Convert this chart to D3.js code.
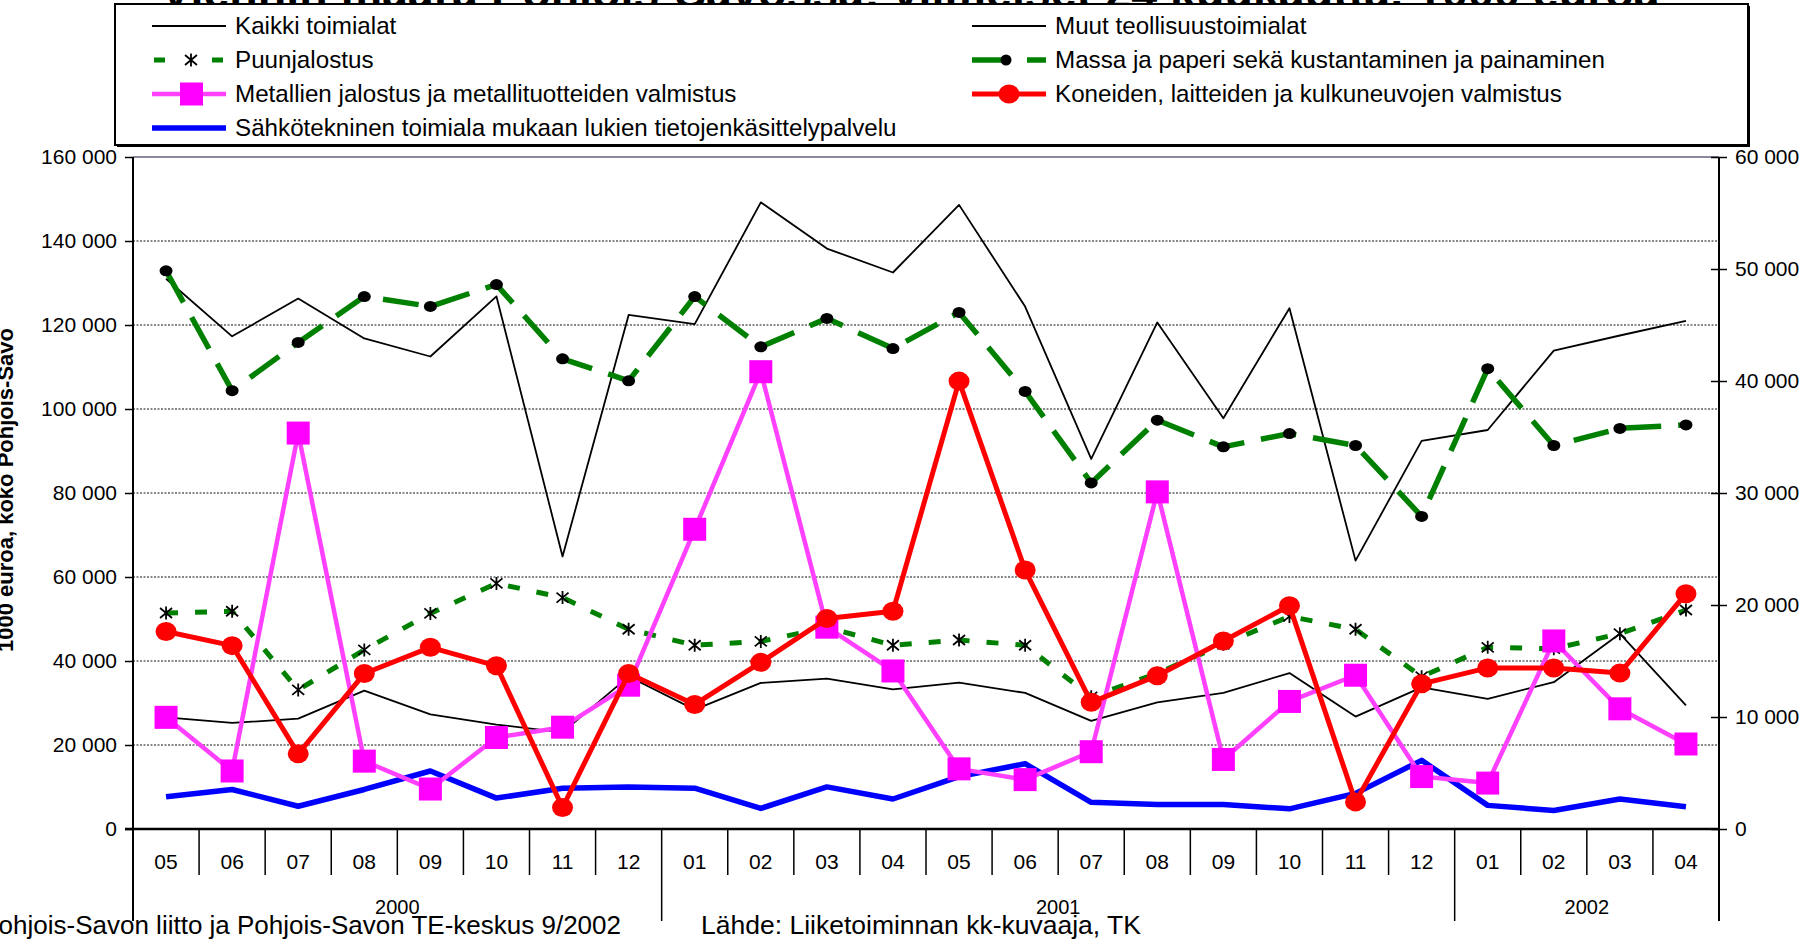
<!DOCTYPE html>
<html>
<head>
<meta charset="utf-8">
<script src="https://cdnjs.cloudflare.com/ajax/libs/d3/7.8.5/d3.min.js"></script>
<style>
body { margin: 0; background: #fff; overflow: hidden; }
svg { display: block; font-family: "Liberation Sans", Arial, sans-serif; }
</style>
</head>
<body>
<script>
// categories
var months = ["05", "06", "07", "08", "09", "10", "11", "12", "01", "02", "03", "04",
	"05", "06", "07", "08", "09", "10", "11", "12", "01", "02", "03", "04"];
var years = ["2000", "2001", "2002"];
var yearFirst = [0, 8, 20];
var yearCount = [8, 12, 4];

// left axis (1000 euroa)
var kaikki = [131000, 117300, 126300, 116800, 112500, 126800, 64900, 122400, 120200, 149200, 138200, 132500,
	148600, 124400, 88100, 120600, 97800, 124000, 63900, 92400, 95000, 113900, 117500, 121000];

// right axis (1000 euroa)
var muut = [9970, 9470, 9850, 12350, 10240, 9320, 8630, 13610, 10660, 13040, 13420, 12460,
	13070, 12150, 9660, 11310, 12150, 13920, 10040, 12650, 11620, 13110, 17440, 11040];
var puun = [19280, 19440, 12420, 15990, 19250, 21930, 20660, 17830, 16410, 16750, 18000, 16410,
	16870, 16410, 11800, 13900, 16500, 18980, 17830, 13600, 16220, 16100, 17440, 19550];
var massa = [49840, 39140, 43440, 47540, 46660, 48610, 41980, 40020, 47540, 43050, 45590, 42900,
	46120, 39070, 30900, 36500, 34120, 35310, 34240, 27910, 41100, 34240, 35770, 36080];
var metalli = [9970, 5180, 35350, 6060, 3570, 8170, 9090, 12840, 26760, 40830, 18020, 14110,
	5370, 4410, 6900, 30100, 6210, 11390, 13730, 4680, 4100, 16790, 10730, 7590];
var koneet = [17640, 16370, 6710, 13880, 16220, 14570, 1920, 13880, 11120, 14880, 18790, 19440,
	39990, 23120, 11310, 13690, 16790, 19940, 2420, 12960, 14380, 14380, 13920, 21010];
var sahko = [2880, 3530, 2030, 3530, 5180, 2760, 3640, 3760, 3640, 1840, 3760, 2680,
	4680, 5830, 2380, 2190, 2190, 1800, 3180, 6130, 2110, 1650, 2680, 1990];

var leftTicks = [0, 20000, 40000, 60000, 80000, 100000, 120000, 140000, 160000];
var rightTicks = [0, 10000, 20000, 30000, 40000, 50000, 60000];

var W = 1809, H = 941;
var L = 133, R = 1719, T = 157, B = 829;

var svg = d3.select("body").append("svg")
	.attr("width", W)
	.attr("height", H);

var x = d3.scaleBand().domain(d3.range(months.length)).range([L, R]);
var cx = function (i) { return x(i) + x.bandwidth() / 2; };
var yL = d3.scaleLinear().domain([0, 160000]).range([B, T]);
var yR = d3.scaleLinear().domain([0, 60000]).range([B, T]);
var fmt = function (d) { return d3.format(",")(d).replace(/,/g, " "); };

// title (mostly hidden behind the legend box)
var title = svg.append("text")
	.attr("x", 910)
	.attr("y", 8)
	.attr("text-anchor", "middle")
	.style("font-weight", "bold")
	.style("font-size", "40px")
	.text("Viennin määrä Pohjois-Savossa: viimeiset 24 kuukautta. 1000 euroa");
var tw = title.node().getComputedTextLength();
title.style("font-size", (40 * 1500 / tw) + "px");

// gridlines
svg.append("g").selectAll("line")
	.data(leftTicks.filter(function (d) { return d > 0 && d < 160000; }))
	.enter().append("line")
	.attr("x1", L).attr("x2", R)
	.attr("y1", function (d) { return yL(d); })
	.attr("y2", function (d) { return yL(d); })
	.attr("stroke", "#111")
	.attr("stroke-width", 1)
	.attr("stroke-dasharray", "2,1.5");

svg.append("line")
	.attr("x1", L).attr("x2", R)
	.attr("y1", T).attr("y2", T)
	.attr("stroke", "#8a8a9c")
	.attr("stroke-width", 2);

// left axis
var ga = svg.append("g")
	.attr("transform", "translate(" + L + ",0)")
	.call(d3.axisLeft(yL).tickValues(leftTicks).tickSize(8).tickPadding(8).tickFormat(fmt));
ga.select(".domain").remove();
ga.selectAll("line").attr("stroke", "#000").attr("stroke-width", 1.5);
ga.selectAll("text").style("font-size", "21px").attr("fill", "#000").attr("font-family", null);

// right axis
var gr = svg.append("g")
	.attr("transform", "translate(" + R + ",0)")
	.call(d3.axisRight(yR).tickValues(rightTicks).tickSize(8).tickPadding(8).tickFormat(fmt));
gr.select(".domain").remove();
gr.selectAll("line").attr("x1", -8).attr("stroke", "#000").attr("stroke-width", 1.5);
gr.selectAll("text").style("font-size", "21px").attr("fill", "#000").attr("font-family", null);

// bottom axis: month labels
var gb = svg.append("g")
	.attr("transform", "translate(0," + B + ")")
	.call(d3.axisBottom(x).tickSize(0).tickPadding(25).tickFormat(function (i) { return months[i]; }));
gb.select(".domain").remove();
gb.selectAll("text").style("font-size", "21px").attr("fill", "#000").attr("font-family", null);

// category boundaries and year separators
svg.append("g").selectAll("line")
	.data(d3.range(1, months.length))
	.enter().append("line")
	.attr("x1", function (i) { return x(i); })
	.attr("x2", function (i) { return x(i); })
	.attr("y1", B)
	.attr("y2", function (i) { return yearFirst.indexOf(i) >= 0 ? 921 : 875; })
	.attr("stroke", "#000")
	.attr("stroke-width", 1.5);

svg.append("g").selectAll("text")
	.data(years)
	.enter().append("text")
	.attr("x", function (d, k) { return (x(yearFirst[k]) + x(yearFirst[k] + yearCount[k] - 1) + x.bandwidth()) / 2; })
	.attr("y", 914)
	.attr("text-anchor", "middle")
	.style("font-size", "20px")
	.text(function (d) { return d; });

// axis lines
svg.append("line").attr("x1", L).attr("x2", L).attr("y1", T).attr("y2", 921)
	.attr("stroke", "#000").attr("stroke-width", 2);
svg.append("line").attr("x1", R).attr("x2", R).attr("y1", T).attr("y2", 921)
	.attr("stroke", "#000").attr("stroke-width", 2);
svg.append("line").attr("x1", L - 8).attr("x2", R).attr("y1", B).attr("y2", B)
	.attr("stroke", "#000").attr("stroke-width", 2.5);

// series
function drawLine(data, y, color, width, dash) {
	var line = d3.line()
		.x(function (d, i) { return cx(i); })
		.y(function (d) { return y(d); });
	svg.append("path")
		.datum(data)
		.attr("d", line)
		.attr("fill", "none")
		.attr("stroke", color)
		.attr("stroke-width", width)
		.attr("stroke-linejoin", "round")
		.attr("stroke-dasharray", dash || null);
}

var asterisk = "M-6,-5L6,5M-6,5L6,-5M0,-6.5L0,6.5";

drawLine(kaikki, yL, "#000", 1.8);
drawLine(muut, yR, "#000", 1.8);
drawLine(sahko, yR, "#0000ff", 5.5);

drawLine(puun, yR, "#008000", 5, "12,17");
svg.append("g").selectAll("path")
	.data(puun)
	.enter().append("path")
	.attr("transform", function (d, i) { return "translate(" + cx(i) + "," + yR(d) + ")"; })
	.attr("d", asterisk)
	.attr("stroke", "#000")
	.attr("stroke-width", 1.8)
	.attr("fill", "none");

drawLine(massa, yR, "#008000", 5.5, "36,17");
svg.append("g").selectAll("ellipse")
	.data(massa)
	.enter().append("ellipse")
	.attr("cx", function (d, i) { return cx(i); })
	.attr("cy", function (d) { return yR(d); })
	.attr("rx", 6.5)
	.attr("ry", 5.5)
	.attr("fill", "#000");

drawLine(metalli, yR, "#ff40ff", 4.5);
svg.append("g").selectAll("rect")
	.data(metalli)
	.enter().append("rect")
	.attr("x", function (d, i) { return cx(i) - 11.5; })
	.attr("y", function (d) { return yR(d) - 11.5; })
	.attr("width", 23)
	.attr("height", 23)
	.attr("fill", "#ff00ff");

drawLine(koneet, yR, "#ff0000", 5);
svg.append("g").selectAll("ellipse")
	.data(koneet)
	.enter().append("ellipse")
	.attr("cx", function (d, i) { return cx(i); })
	.attr("cy", function (d) { return yR(d); })
	.attr("rx", 10.5)
	.attr("ry", 9.5)
	.attr("fill", "#ff0000");

// y axis title
svg.append("text")
	.attr("transform", "translate(13,490) rotate(-90)")
	.attr("text-anchor", "middle")
	.style("font-weight", "bold")
	.style("font-size", "22px")
	.text("1000 euroa, koko Pohjois-Savo");

// footer
svg.append("text")
	.attr("x", 621)
	.attr("y", 934)
	.attr("text-anchor", "end")
	.style("font-size", "26px")
	.text("Pohjois-Savon liitto ja Pohjois-Savon TE-keskus 9/2002");
svg.append("text")
	.attr("x", 701)
	.attr("y", 934)
	.style("font-size", "26.5px")
	.text("Lähde: Liiketoiminnan kk-kuvaaja, TK");

// legend
svg.append("rect")
	.attr("x", 117).attr("y", 6)
	.attr("width", 1633).attr("height", 141)
	.attr("fill", "#000");
svg.append("rect")
	.attr("x", 115).attr("y", 4)
	.attr("width", 1633).attr("height", 141)
	.attr("fill", "#fff")
	.attr("stroke", "#000")
	.attr("stroke-width", 2);

var legendItems = [
	{ name: "Kaikki toimialat", col: 0, row: 0, color: "#000", width: 1.8 },
	{ name: "Muut teollisuustoimialat", col: 1, row: 0, color: "#000", width: 1.8 },
	{ name: "Puunjalostus", col: 0, row: 1, color: "#008000", width: 5, dash: "11,47", marker: "asterisk" },
	{ name: "Massa ja paperi sekä kustantaminen ja painaminen", col: 1, row: 1, color: "#008000", width: 5.5, dash: "38,17", marker: "dot" },
	{ name: "Metallien jalostus ja metallituotteiden valmistus", col: 0, row: 2, color: "#ff40ff", width: 4.5, marker: "square" },
	{ name: "Koneiden, laitteiden ja kulkuneuvojen valmistus", col: 1, row: 2, color: "#ff0000", width: 5, marker: "circle" },
	{ name: "Sähkötekninen toimiala mukaan lukien tietojenkäsittelypalvelu", col: 0, row: 3, color: "#0000ff", width: 5.5 }
];
var colX = [152, 972];
var rowY = [26, 60, 94, 128];

var lg = svg.append("g").selectAll("g")
	.data(legendItems)
	.enter().append("g")
	.attr("transform", function (d) { return "translate(" + colX[d.col] + "," + rowY[d.row] + ")"; });

lg.append("line")
	.attr("x1", function (d) { return d.dash === "11,47" ? 2 : 0; })
	.attr("x2", 74)
	.attr("stroke", function (d) { return d.color; })
	.attr("stroke-width", function (d) { return d.width; })
	.attr("stroke-dasharray", function (d) { return d.dash || null; });

lg.filter(function (d) { return d.marker === "asterisk"; }).append("path")
	.attr("transform", "translate(39,0)")
	.attr("d", asterisk)
	.attr("stroke", "#000").attr("stroke-width", 1.8).attr("fill", "none");
lg.filter(function (d) { return d.marker === "dot"; }).append("ellipse")
	.attr("cx", 34).attr("rx", 5.5).attr("ry", 5.5).attr("fill", "#000");
lg.filter(function (d) { return d.marker === "square"; }).append("rect")
	.attr("x", 28).attr("y", -11.5).attr("width", 23).attr("height", 23).attr("fill", "#ff00ff");
lg.filter(function (d) { return d.marker === "circle"; }).append("ellipse")
	.attr("cx", 37).attr("rx", 10.5).attr("ry", 9.5).attr("fill", "#ff0000");

lg.append("text")
	.attr("x", 83)
	.attr("dy", "0.35em")
	.style("font-size", "24.2px")
	.text(function (d) { return d.name; });
</script>
</body>
</html>
